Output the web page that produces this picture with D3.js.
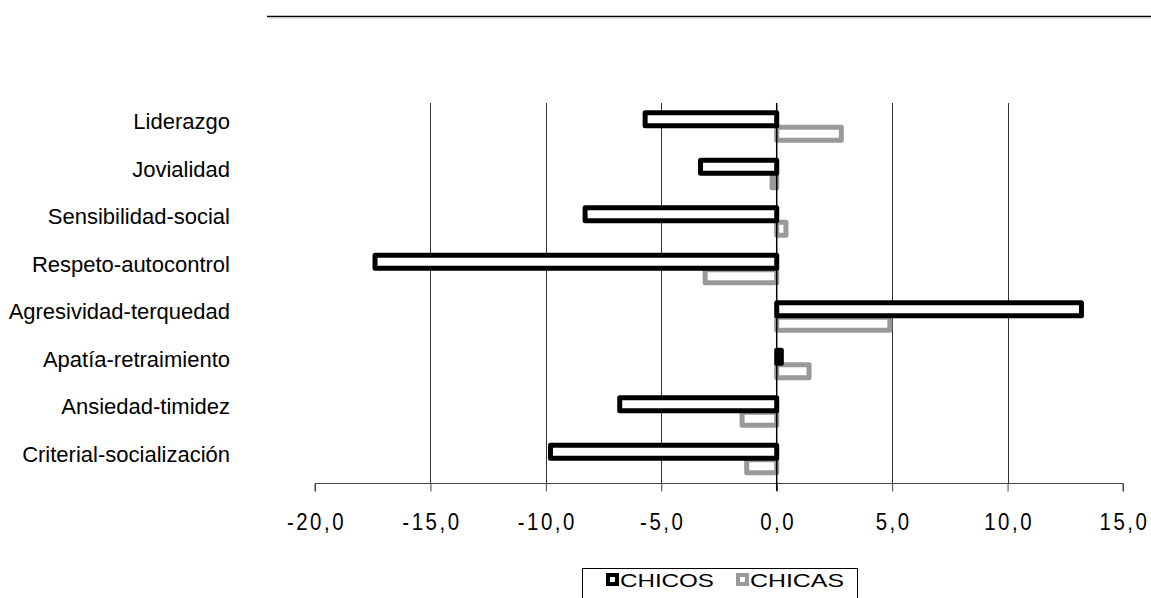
<!DOCTYPE html>
<html><head><meta charset="utf-8">
<script src="https://cdn.jsdelivr.net/npm/d3@7"></script>
<style>body{margin:0;background:#fff}svg{display:block}</style>
</head><body>
<svg id="c" width="1151" height="598"></svg>
<script>
const categories = ["Liderazgo","Jovialidad","Sensibilidad-social","Respeto-autocontrol","Agresividad-terquedad","Apatía-retraimiento","Ansiedad-timidez","Criterial-socialización"];
const chicos = [-5.7,-3.3,-8.3,-17.4,13.2,0.2,-6.8,-9.8];
const chicas = [2.8,-0.2,0.4,-3.1,4.9,1.4,-1.5,-1.3];
const seriesNames = ["CHICOS","CHICAS"];
const xTicks = [-20,-15,-10,-5,0,5,10,15];

const svg = d3.select("#c");
const x = d3.scaleLinear().domain([-20,15]).range([315,1123]);
const y = d3.scaleBand().domain(categories).range([103,483]);
const fmt = v => d3.format(".1f")(v).replace(".",",").replace("−","-");

// top line
svg.append("line").attr("x1",267).attr("x2",1151).attr("y1",16.5).attr("y2",16.5).attr("stroke","#000").attr("stroke-width",1.5);
svg.append("line").attr("x1",267).attr("x2",1151).attr("y1",18).attr("y2",18).attr("stroke","#ccc").attr("stroke-width",1);

// gridlines
svg.append("g").selectAll("line").data(xTicks.filter(t=>t!==-20 && t!==0 && t!==15)).join("line")
  .attr("x1",d=>Math.round(x(d))+0.5).attr("x2",d=>Math.round(x(d))+0.5)
  .attr("y1",103).attr("y2",483).attr("stroke","#333").attr("stroke-width",1);

// x axis
const ax = svg.append("g").attr("transform","translate(0,483.5)")
  .call(d3.axisBottom(x).tickValues(xTicks).tickSize(8).tickFormat(fmt));
ax.select(".domain").attr("stroke","#444").attr("d",`M${x(-20)},8V0H${x(15)}V8`);
ax.selectAll(".tick line").attr("stroke","#444");
ax.selectAll("text").attr("font-family","'Liberation Sans',Arial,sans-serif")
  .attr("font-size",24).attr("letter-spacing","3px").attr("fill","#000")
  .attr("y",0).attr("dy",0).attr("dominant-baseline","auto")
  .attr("transform","translate(1,46) scale(0.85,1)");

// bars
const sw = 5;
const bh = 13;
function drawSeries(data, color, offset){
  svg.append("g").selectAll("rect").data(data).join("rect")
    .attr("x",(d)=>x(Math.min(0,d)))
    .attr("width",d=>Math.abs(x(d)-x(0)))
    .attr("y",(d,i)=>y(categories[i])+y.bandwidth()/2+offset)
    .attr("height",bh)
    .attr("fill","#fff").attr("stroke",color).attr("stroke-width",sw)
    .attr("stroke-linejoin","round");
}
drawSeries(chicas,"#999",0.5);
drawSeries(chicos,"#000",-14);

// category axis
svg.append("line").attr("x1",x(0)).attr("x2",x(0)).attr("y1",103).attr("y2",491).attr("stroke","#000").attr("stroke-width",1.5);

// category labels
svg.append("g").selectAll("text").data(categories).join("text")
  .attr("x",230).attr("y",d=>y(d)+y.bandwidth()/2-3.5)
  .attr("text-anchor","end").attr("dominant-baseline","middle")
  .attr("font-family","'Liberation Sans',Arial,sans-serif")
  .attr("font-size",22).attr("fill","#000").text(d=>d);

// legend
const lg = svg.append("g");
lg.append("rect").attr("x",582.5).attr("y",568.5).attr("width",275).attr("height",40).attr("fill","#fff").attr("stroke","#000");
const items = [{n:seriesNames[0],c:"#000",ix:606,tx:620},{n:seriesNames[1],c:"#999",ix:736,tx:750}];
items.forEach(it=>{
  lg.append("rect").attr("x",it.ix+2).attr("y",575).attr("width",9).attr("height",9).attr("fill","#fff").attr("stroke",it.c).attr("stroke-width",4);
  lg.append("text").attr("x",it.tx).attr("y",586.5).attr("font-family","'Liberation Sans',Arial,sans-serif")
    .attr("font-size",19).attr("textLength",94).attr("lengthAdjust","spacingAndGlyphs").attr("fill","#000").text(it.n);
});
</script>
</body></html>
